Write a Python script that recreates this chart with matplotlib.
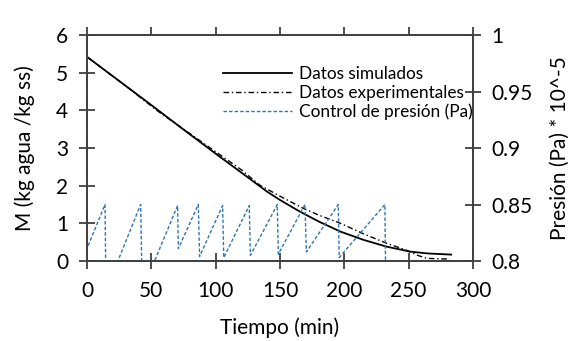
import matplotlib
matplotlib.use("Agg")
import matplotlib.pyplot as plt
from matplotlib.ticker import FuncFormatter

plt.rcParams['font.family'] = ['Lato', 'DejaVu Sans']

# datos simulados (M, kg agua / kg ss)
t_sim = [0, 25, 50, 75, 100, 125, 140, 150, 165, 180, 197, 215, 233, 251, 265, 283]
m_sim = [5.42, 4.78, 4.14, 3.49, 2.85, 2.22, 1.84, 1.62, 1.32, 1.05, 0.78, 0.56, 0.38, 0.25, 0.20, 0.17]

# datos experimentales
t_exp = [0, 30, 55, 80, 100, 120, 134, 150, 168, 180, 197, 215, 233, 248, 257, 264, 282]
m_exp = [5.42, 4.65, 3.98, 3.38, 2.90, 2.42, 2.02, 1.72, 1.40, 1.22, 1.00, 0.72, 0.47, 0.29, 0.15, 0.07, 0.05]

# control de presión (Pa * 10^-5)
t_pres = [0, 0, 14, 14.5, 24, 41.7, 42.5, 52.5, 70.4, 71, 86.5, 87.5, 105.4, 106.3,
          126.1, 127, 147.9, 148.7, 169.4, 170.5, 195.3, 196, 231.5, 232, 283]
p_pres = [1.0, 0.811, 0.85, 0.80, 0.80, 0.85, 0.80, 0.80, 0.849, 0.811, 0.85, 0.804, 0.849, 0.803,
          0.849, 0.805, 0.85, 0.806, 0.85, 0.808, 0.85, 0.803, 0.85, 0.80, 0.80]

grey = '#404040'

fig = plt.figure(figsize=(5.75, 3.41), dpi=100)
ax = fig.add_axes([87/575, 1-261/341, 386/575, 226/341])
ax2 = ax.twinx()

l1, = ax.plot(t_sim, m_sim, color='black', lw=1.3, label='Datos simulados')
l2, = ax.plot(t_exp, m_exp, color='black', lw=1.0, linestyle=(0, (4, 2, 1, 2)),
              label='Datos experimentales')
l3, = ax2.plot(t_pres, p_pres, color='#2E75B6', lw=1.0, linestyle=(0, (2.5, 1.5)),
               label='Control de presión (Pa)')

ax.set_xlim(0, 300)
ax.set_ylim(0, 6)
ax2.set_ylim(0.8, 1.0)
ax.set_xticks(range(0, 301, 50))
ax.set_yticks(range(0, 7))
ax2.set_yticks([0.8, 0.85, 0.9, 0.95, 1.0])
ax2.yaxis.set_major_formatter(FuncFormatter(lambda v, p: '{:g}'.format(round(v, 2))))

for a in (ax, ax2):
    for s in a.spines.values():
        s.set_linewidth(1.3)
        s.set_color(grey)

ax.tick_params(axis='y', direction='inout', length=11, width=1.3, labelsize=15, color=grey, pad=8)
ax.tick_params(axis='x', direction='inout', length=11, width=1.3, labelsize=15, color=grey, pad=9)
ax2.tick_params(axis='y', direction='inout', length=11, width=1.3, labelsize=15, color=grey, pad=8)

# marcas del eje superior (sin etiquetas)
top = ax.secondary_xaxis('top')
top.set_xticks(range(0, 301, 50))
top.tick_params(direction='out', length=6, width=1.3, color=grey, labeltop=False)
top.spines['top'].set_visible(False)

ax.set_xlabel('Tiempo (min)', fontsize=15, labelpad=12)
ax.set_ylabel('M (kg agua /kg ss)', fontsize=15)
ax2.set_ylabel('Presión (Pa) * 10^-5', fontsize=15)
ax.yaxis.set_label_coords(-0.135, 0.5)
ax2.yaxis.set_label_coords(1.20, 0.5)

ax2.legend(handles=[l1, l2, l3], loc='upper right', bbox_to_anchor=(473/575, 1-66/341),
           bbox_transform=fig.transFigure, frameon=False, fontsize=12.4,
           handlelength=4.0, handletextpad=0.4, labelspacing=0.16,
           borderpad=0, borderaxespad=0)

fig.savefig('out.png', dpi=100)
